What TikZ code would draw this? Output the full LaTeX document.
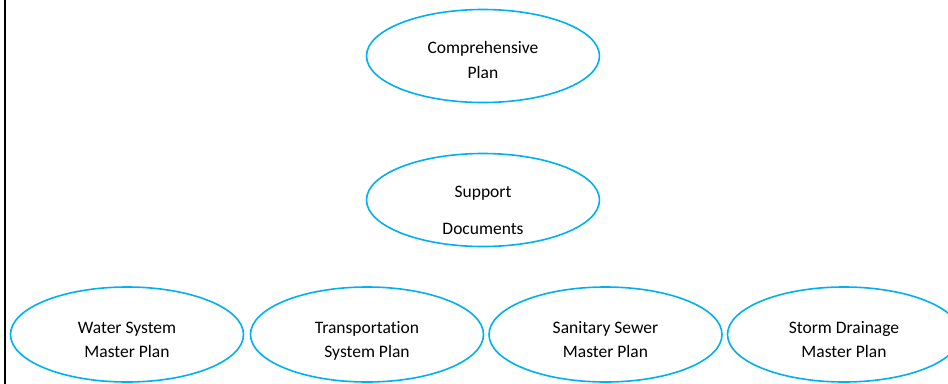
\documentclass[tikz,border=0pt]{standalone}
\usepackage{fontspec}
\setmainfont{Carlito}[RawFeature={-liga}]
\usetikzlibrary{shapes.geometric}
\definecolor{skyline}{RGB}{0,176,240}
\tikzset{
  plan/.style={ellipse, draw=skyline, line width=1.6pt, inner sep=0pt,
    minimum width=233pt, minimum height=93pt},
  plantext/.style={align=center, inner sep=0pt, text=black,
    font=\fontsize{17.5}{24}\selectfont},
}
\begin{document}
\begin{tikzpicture}[x=1pt,y=-1pt]
\useasboundingbox (0,0) rectangle (948,383);
\begin{scope}
\clip (0,0) rectangle (948,383);
\draw[black, line width=2pt] (4.5,-2) -- (4.5,390);
\node[plan, label={[name=comp-t, plantext, font=\fontsize{17.5}{24.5}\selectfont, yshift=-5.3pt]center:\strut Comprehensive\\\strut Plan}] (comp) at (483,56) {};
\node[plan, label={[name=supp-t, plantext, font=\fontsize{17.5}{37}\selectfont, yshift=-8.8pt]center:\strut Support\\\strut Documents}] (supp) at (483,200) {};
\node[plan, minimum height=95pt, label={[name=water-t, plantext, yshift=-6pt]center:\strut Water System\\\strut Master Plan}] (water) at (127,334.5) {};
\node[plan, minimum height=95pt, label={[name=trans-t, plantext, yshift=-6pt]center:\strut Transportation\\\strut System Plan}] (trans) at (367,334.5) {};
\node[plan, minimum height=95pt, label={[name=sani-t, plantext, yshift=-6pt]center:\strut Sanitary Sewer\\\strut Master Plan}] (sani) at (605.5,334.5) {};
\node[plan, minimum height=95pt, label={[name=storm-t, plantext, yshift=-6pt]center:\strut Storm Drainage\\\strut Master Plan}] (storm) at (844,334.5) {};
\end{scope}
\end{tikzpicture}
\end{document}
